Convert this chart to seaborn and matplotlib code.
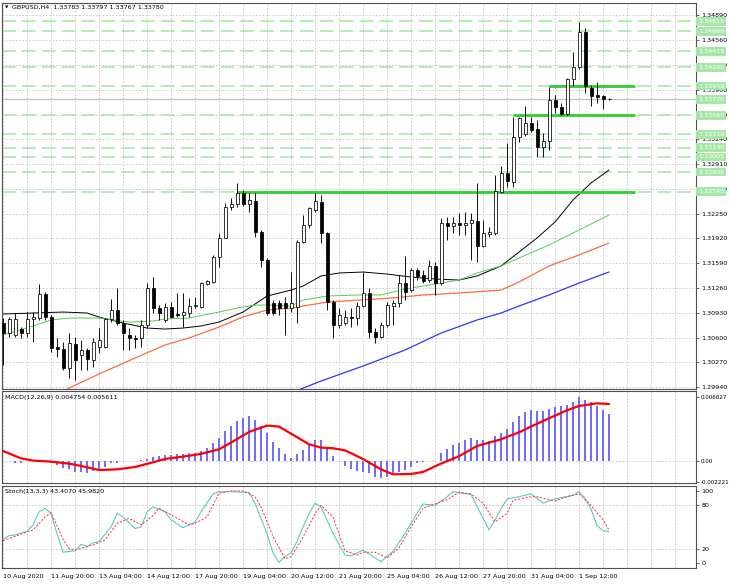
import matplotlib
matplotlib.use("Agg")
import matplotlib.pyplot as plt
import matplotlib.transforms as mtransforms
import numpy as np
import pandas as pd
import seaborn as sns

# ---------------- data ----------------
opens = [1.30794,1.30660,1.30634,1.30714,1.30660,1.30847,1.30860,1.31180,1.30874,1.30474,
         1.30447,1.30194,1.30514,1.30367,1.30434,1.30301,1.30474,1.30474,1.30847,1.30967,
         1.30794,1.30634,1.30594,1.30594,1.30767,1.31260,1.30993,1.30834,1.31007,1.30910,
         1.30900,1.30927,1.31020,1.31007,1.31313,1.31340,1.31673,1.31926,1.32339,1.32379,
         1.32525,1.32379,1.32419,1.32006,1.31633,1.31060,1.31060,1.31060,1.30993,1.31007,
         1.31873,1.32099,1.32299,1.32405,1.31992,1.31073,1.30767,1.30794,1.30874,1.30860,
         1.31020,1.31193,1.30674,1.30607,1.30767,1.31020,1.31060,1.31326,1.31233,1.31500,
         1.31433,1.31366,1.31553,1.31326,1.32126,1.32086,1.32126,1.32099,1.32126,1.32152,
         1.31819,1.31979,1.31992,1.32539,1.32792,1.32672,1.33271,1.33311,1.33458,1.33378,
         1.33138,1.33218,1.33764,1.33671,1.33578,1.34044,1.34204,1.34670,1.33924,1.33831,
         1.33817,1.33783]
highs = [1.30860,1.30874,1.30927,1.30740,1.30940,1.30940,1.31313,1.31207,1.30900,1.30594,
         1.30541,1.30660,1.30607,1.30567,1.30461,1.30594,1.30727,1.30860,1.31113,1.31260,
         1.30834,1.30727,1.30634,1.30834,1.31326,1.31406,1.31033,1.31060,1.31073,1.31193,
         1.31193,1.31127,1.31140,1.31340,1.31366,1.31700,1.31992,1.32392,1.32459,1.32658,
         1.32565,1.32525,1.32525,1.32032,1.31660,1.31100,1.31100,1.31140,1.31473,1.31899,
         1.32232,1.32339,1.32525,1.32499,1.32006,1.31100,1.30993,1.30967,1.30993,1.31073,
         1.31473,1.31260,1.30727,1.30807,1.31073,1.31100,1.31433,1.31686,1.31526,1.31526,
         1.31500,1.31633,1.31606,1.32192,1.32206,1.32206,1.32259,1.32272,1.32259,1.32658,
         1.32166,1.32072,1.32765,1.32885,1.33191,1.33538,1.33538,1.33684,1.33538,1.33498,
         1.33324,1.33937,1.33831,1.33724,1.34057,1.34404,1.34806,1.34723,1.33964,1.34004,
         1.33831,1.33797]
lows = [1.30234,1.30607,1.30607,1.30594,1.30607,1.30541,1.30834,1.30834,1.30407,1.30341,
        1.30168,1.30061,1.30034,1.30168,1.30168,1.30208,1.30394,1.30461,1.30807,1.30767,
        1.30434,1.30434,1.30461,1.30474,1.30727,1.30927,1.30834,1.30807,1.30860,1.30874,
        1.30740,1.30874,1.30993,1.30993,1.31300,1.31326,1.31540,1.31926,1.32299,1.32339,
        1.32352,1.32272,1.31939,1.31540,1.30900,1.30900,1.30900,1.30634,1.30940,1.30794,
        1.31859,1.32059,1.32272,1.31859,1.30967,1.30594,1.30727,1.30767,1.30740,1.30767,
        1.31007,1.30594,1.30527,1.30594,1.30740,1.30767,1.31007,1.31100,1.31207,1.31366,
        1.31326,1.31340,1.31167,1.31300,1.31899,1.31992,1.31966,1.31966,1.31633,1.31606,
        1.31806,1.31939,1.31966,1.32525,1.32605,1.32605,1.33205,1.33284,1.33338,1.33005,
        1.33005,1.33098,1.33591,1.33564,1.33564,1.33950,1.34177,1.33857,1.33684,1.33724,
        1.33644,1.33767]
closes = [1.30660,1.30847,1.30847,1.30660,1.30847,1.30874,1.31180,1.30874,1.30461,1.30447,
          1.30194,1.30527,1.30301,1.30434,1.30314,1.30541,1.30567,1.30847,1.30967,1.30794,
          1.30660,1.30594,1.30581,1.30767,1.31260,1.30993,1.30927,1.31007,1.30874,1.30900,
          1.30940,1.31020,1.31033,1.31326,1.31353,1.31673,1.31926,1.32339,1.32379,1.32525,
          1.32379,1.32432,1.32006,1.31633,1.30927,1.30927,1.30993,1.30993,1.31060,1.31873,
          1.32099,1.32325,1.32419,1.31992,1.31073,1.30767,1.30900,1.30874,1.30860,1.31020,
          1.31193,1.30674,1.30607,1.30767,1.31033,1.31060,1.31326,1.31207,1.31500,1.31420,
          1.31353,1.31553,1.31326,1.32126,1.32086,1.32126,1.32099,1.32126,1.32166,1.31819,
          1.31992,1.32006,1.32552,1.32792,1.32685,1.33271,1.33524,1.33458,1.33364,1.33138,
          1.33218,1.33764,1.33671,1.33578,1.34044,1.34204,1.34670,1.33950,1.33817,1.33804,
          1.33777,1.33780]

ma_black_idx = [0,5,10,14,16,20,24,27,30,33,36,40,44,48,50,53,56,60,64,68,72,76,79,83,86,89,92,95,98,101]
ma_black = [1.30914,1.30927,1.30940,1.30927,1.30874,1.30794,1.30727,1.30714,1.30727,1.30754,
            1.30807,1.30940,1.31153,1.31233,1.31286,1.31420,1.31460,1.31473,1.31446,1.31406,
            1.31380,1.31366,1.31420,1.31553,1.31739,1.31926,1.32139,1.32432,1.32658,1.32832]
ma_green_idx = [0,5,8,11,16,21,25,27,31,36,39,42,45,48,50,54,59,63,67,73,76,79,83,86,91,96,101]
ma_green = [1.30634,1.30754,1.30834,1.30860,1.30860,1.30807,1.30820,1.30847,1.30860,1.30940,
            1.30993,1.31033,1.31033,1.31020,1.31100,1.31153,1.31167,1.31167,1.31247,1.31326,
            1.31366,1.31460,1.31553,1.31660,1.31833,1.32032,1.32232]
ma_orange_idx = [10,11,16,22,27,31,36,40,44,48,54,65,70,76,83,86,91,96,101]
ma_orange = [1.29875,1.29928,1.30115,1.30327,1.30501,1.30594,1.30740,1.30874,1.30967,1.30993,
             1.31073,1.31127,1.31167,1.31193,1.31233,1.31340,1.31553,1.31700,1.31859]
ma_blue_idx = [49,53,60,67,73,79,83,86,91,96,101]
ma_blue = [1.29895,1.30021,1.30221,1.30434,1.30660,1.30834,1.30927,1.31020,1.31167,1.31326,1.31473]

levels = [1.34815,1.34680,1.34415,1.34200,1.33950,1.33560,1.33310,1.33130,1.33005,1.32805,1.32545]
level_labels = [1.34815,1.34680,1.34415,1.34200,1.33950,1.33770,1.33560,1.33310,1.33130,1.33005,1.32805,1.32545]
zone_prices = [1.33950, 1.33560, 1.32545]
zone_start = [91, 85, 39]
zone_end = [105.3, 105.3, 105.3]
bid_price = 1.33780

macd_hist = [0.00004,0.00004,-0.00018,-0.00025,-0.00004,-0.00004,0.00011,0.00011,-0.00018,-0.00043,
             -0.00078,-0.00089,-0.00114,-0.00114,-0.00132,-0.00103,-0.00096,-0.00068,-0.00025,-0.00018,
             0.00004,0.00004,0.00004,0.00007,0.00021,0.00039,0.00053,0.00064,0.00064,0.00071,
             0.00075,0.00082,0.00089,0.00107,0.00135,0.00189,0.00242,0.00313,0.00367,0.00420,
             0.00456,0.00473,0.00438,0.00367,0.00295,0.00206,0.00135,0.00075,0.00028,0.00075,
             0.00117,0.00171,0.00224,0.00224,0.00153,0.00053,0.00004,-0.00053,-0.00089,-0.00107,
             -0.00114,-0.00132,-0.00174,-0.00185,-0.00167,-0.00125,-0.00114,-0.00096,-0.00061,-0.00025,
             -0.00007,0.00004,0.00004,0.00089,0.00125,0.00171,0.00196,0.00224,0.00242,0.00224,
             0.00224,0.00217,0.00260,0.00295,0.00342,0.00409,0.00481,0.00520,0.00545,0.00534,
             0.00527,0.00555,0.00573,0.00587,0.00598,0.00627,0.006827,0.00651,0.00623,0.00580,
             0.00545,0.00500]
macd_sig_idx = [0,3,5,8,11,13,16,19,22,25,27,30,33,36,38,41,44,46,48,51,53,55,57,60,63,65,68,70,73,76,79,83,86,88,91,94,96,99,101]
macd_sig = [0.00106,0.00028,0.00004,-0.00007,-0.00028,-0.00053,-0.00096,-0.00089,-0.00064,-0.00014,
            0.00021,0.00046,0.00075,0.00124,0.00195,0.00308,0.00376,0.00365,0.00290,0.00177,
            0.00142,0.00135,0.00113,0.00021,-0.00089,-0.00142,-0.00138,-0.00117,-0.00028,0.00050,
            0.00159,0.00230,0.00304,0.00365,0.00453,0.00538,0.00584,0.00612,0.00605]

stoch_main_idx = [0,1,2,4,5,6,7,8,9,10,12,13,14,15,16,18,19,20,22,23,24,25,27,28,30,32,33,35,36,38,
                  41,42,44,45,46,47,48,49,50,51,52,53,55,57,58,60,63,65,67,69,70,72,74,75,78,81,82,83,84,86,
                  88,90,92,95,96,97,98,99,100,101]
stoch_main = [33,38,39,44,53,71,76,69,41,15,17,26,23,28,30,50,69,64,48,50,71,78,71,60,49,57,71,96,99,99,
              98,83,41,14,1,9,14,30,50,68,83,78,41,11,10,18,2,16,41,69,82,80,92,99,95,46,60,75,89,92,
              96,83,89,94,99,90,75,52,45,43.41]
stoch_sig_idx = [0,2,5,7,8,9,10,11,12,15,17,19,21,23,24,25,26,28,31,32,34,36,38,40,42,43,45,47,48,49,
                 50,52,53,55,57,59,60,62,64,66,68,70,72,74,76,78,80,82,84,85,88,89,92,94,96,98,100,101]
stoch_sig = [31,37,46,64,70,52,33,20,18,25,32,55,62,53,59,66,76,67,53,55,64,97,100,100,92,78,37,6,9,22,
             36,68,80,64,17,11,15,15,7,21,50,76,82,88,98,96,83,57,69,87,92,92,86,92,96,80,60,45.98]

price_ticks = [1.29940,1.30270,1.30600,1.30930,1.31260,1.31590,1.31920,1.32250,1.32580,1.32910,
               1.33240,1.33570,1.33900,1.34230,1.34560,1.34890]
macd_ticks = [-0.002221, 0.0, 0.006827]
macd_tick_labels = ["-0.002221", "0.00", "0.006827"]
stoch_ticks = [0, 20, 80, 100]
time_tick_idx = [0,8,16,24,32,40,48,56,64,72,80,88,96]
time_tick_labels = ["10 Aug 2020","11 Aug 20:00","13 Aug 04:00","14 Aug 12:00","17 Aug 20:00",
                    "19 Aug 04:00","20 Aug 12:00","21 Aug 20:00","25 Aug 04:00","26 Aug 12:00",
                    "27 Aug 20:00","31 Aug 04:00","1 Sep 12:00"]
title_main = "GBPUSD,H4  1.33783 1.33797 1.33767 1.33780"
title_macd = "MACD(12,26,9) 0.004754 0.005611"
title_stoch = "Stoch(13,3,3) 43.4070 45.9820"

# ---------------- style ----------------
sns.set_theme(style="white")
plt.rcParams["font.family"] = ["DejaVu Sans"]
FS = 4.6
GRID = dict(color="#c4c4c4", lw=0.6, ls=(0, (2, 2)), zorder=0)
SPINE = "#505050"

W, H = 730, 584
fig = plt.figure(figsize=(W / 100, H / 100), dpi=100)
fig.patch.set_facecolor("white")

def px_axes(top, bottom):
    return fig.add_axes([2 / W, (H - bottom) / H, 694 / W, (bottom - top) / H])

ax1 = px_axes(3, 389)
ax2 = px_axes(391, 483)
ax3 = px_axes(486, 568)

n = len(opens)
xs = np.arange(n)
XLIM = (-0.17, 115.5)

for ax in (ax1, ax2, ax3):
    ax.set_facecolor("white")
    ax.set_xlim(*XLIM)
    for s in ax.spines.values():
        s.set_color(SPINE)
        s.set_linewidth(0.8)
    for v in range(0, 116, 4):
        ax.axvline(v, **GRID)
    ax.yaxis.tick_right()
    ax.tick_params(axis="y", labelsize=FS, length=2.5, width=0.6, pad=1.5, color=SPINE,
                   direction="out", labelcolor="black")
    ax.set_xticks([])
    ax.set_xlabel("")
    ax.set_ylabel("")

# ---------------- main price panel ----------------
ax1.set_ylim(1.29915, 1.35056)
for v in price_ticks:
    ax1.axhline(v, **GRID)
ax1.set_yticks(price_ticks)
ax1.set_yticklabels([f"{v:.5f}" for v in price_ticks])

for lv in levels:
    ax1.axhline(lv, color="#a3e5a3", lw=1.1, ls=(0, (9, 4)), zorder=1)
ax1.axhline(bid_price, color="#c0c0c0", lw=0.9, zorder=1.2)
for p, s, e in zip(zone_prices, zone_start, zone_end):
    ax1.hlines(p, s, e, color="#33cc33", lw=2.0, zorder=2.2)

df_ma = [
    (ma_black_idx, ma_black, "black", 0.7),
    (ma_green_idx, ma_green, "#55cc55", 0.7),
    (ma_orange_idx, ma_orange, "#ff6a3d", 0.9),
    (ma_blue_idx, ma_blue, "#3333ff", 0.9),
]
for idx, vals, col, lw in df_ma:
    sns.lineplot(x=idx, y=vals, ax=ax1, color=col, linewidth=lw, legend=False, zorder=2, sort=False)

o = np.array(opens); c = np.array(closes); hi = np.array(highs); lo = np.array(lows)
ax1.vlines(xs, lo, hi, color="black", lw=0.65, zorder=3)
body_h = np.where(np.abs(c - o) < 0.00004, 0.00004, np.abs(c - o))
body_b = np.minimum(o, c) - np.where(np.abs(c - o) < 0.00004, 0.00002, 0)
face = ["white" if cc >= oo else "black" for oo, cc in zip(opens, closes)]
ax1.bar(xs, body_h, bottom=body_b, width=0.5, color=face, edgecolor="black", linewidth=0.55, zorder=4)

trans1 = mtransforms.blended_transform_factory(ax1.transAxes, ax1.transData)
for lv in level_labels:
    ax1.text(1.003, lv, f"{lv:.5f}", transform=trans1, fontsize=FS, color="white", va="center",
             ha="left", clip_on=False, zorder=5,
             bbox=dict(boxstyle="square,pad=0.3", fc="#a6e6a6", ec="none"))

fig.text(5 / W, 1 - 7.5 / H, "\u25BC", fontsize=3.2, color="black", va="center", ha="left")
fig.text(12 / W, 1 - 7.5 / H, title_main, fontsize=FS, color="black", va="center", ha="left")

# ---------------- MACD panel ----------------
ax2.set_ylim(-0.00234, 0.00743)
ax2.axhline(0, **GRID)
ax2.bar(xs, macd_hist, width=0.26, color="#6e6eff", zorder=2, linewidth=0)
sns.lineplot(x=macd_sig_idx, y=macd_sig, ax=ax2, color="red", linewidth=1.6, legend=False, zorder=3, sort=False)
ax2.set_yticks(macd_ticks)
ax2.set_yticklabels(macd_tick_labels)
ax2.tick_params(axis="y", labelsize=4.1, pad=1.0)
ax2.set_xticks([])
ax2.set_xlabel(""); ax2.set_ylabel("")
fig.text(5 / W, 1 - 397 / H, title_macd, fontsize=FS, color="black", va="center", ha="left")

# ---------------- Stochastic panel ----------------
ax3.set_ylim(-6.9, 106.9)
for v in (20, 80):
    ax3.axhline(v, **GRID)
sns.lineplot(x=stoch_main_idx, y=stoch_main, ax=ax3, color="#5cc9c0", linewidth=0.8, legend=False, zorder=3, sort=False)
sns.lineplot(x=stoch_sig_idx, y=stoch_sig, ax=ax3, color="#ff3030", linewidth=0.7, legend=False, zorder=3,
             sort=False, dashes=False, linestyle=(0, (2.2, 1.6)))
ax3.set_yticks(stoch_ticks)
ax3.set_yticklabels([str(v) for v in stoch_ticks])
ax3.set_xticks(time_tick_idx)
ax3.set_xticklabels(time_tick_labels, fontsize=FS, ha="left")
ax3.tick_params(axis="x", length=2.5, width=0.6, pad=1.5, color=SPINE, direction="out", labelcolor="black")
ax3.set_xlabel(""); ax3.set_ylabel("")
fig.text(5 / W, 1 - 492 / H, title_stoch, fontsize=FS, color="black", va="center", ha="left")

for ax in (ax1, ax2, ax3):
    ax.set_xlim(*XLIM)

fig.savefig("out.png", dpi=100, facecolor="white")
